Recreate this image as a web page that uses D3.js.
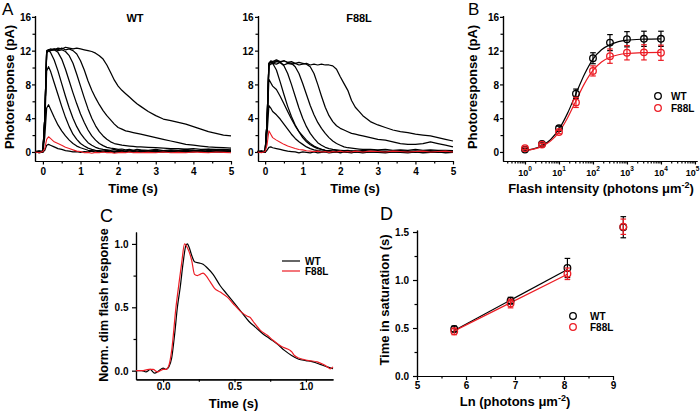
<!DOCTYPE html>
<html><head><meta charset="utf-8">
<script src="https://cdn.jsdelivr.net/npm/d3@7"></script>
<style>
body{margin:0;background:#fff}
svg{display:block;font-family:"Liberation Sans",Arial,Helvetica,sans-serif}
</style></head><body>
<svg id="c" width="700" height="412"></svg>
<script>
// ---------- Panel A: photoresponse traces (time grid in s, values in pA) ----------
const tA = [-0.2,-0.1,0,0.05,0.1,0.15,0.2,0.3,0.4,0.5,0.6,0.7,0.8,0.9,1.0,1.1,1.2,1.3,1.4,1.5,1.6,1.7,1.8,1.9,2.0,2.1,2.2,2.3,2.4,2.5,2.6,2.8,3.0,3.2,3.4,3.6,3.8,4.0,4.2,4.4,4.6,4.8,5.0];

const wtP1 = [0.1,-0.1,0,0.2,0.8,0.9,0.8, 0.6,0.4,0.3,0.15,0.1,0,0.05,-0.05,0.05,0,0.1,-0.05,0.05,0,0.1,0,-0.05,0.05,0,0.1,0,0.05,-0.05,0.1, 0,0.05,0,0.1,-0.05,0.05,0,0.1,0,0.05,-0.05,0.05];
const wtRed = [0,-0.1,0.05,0.4,1.5,1.8,1.6, 1.2,1.0,0.8,0.55,0.4,0.25,0.1,0.05,-0.1,-0.05,-0.15,-0.05,-0.1,0,-0.1,-0.05,-0.15,-0.1,-0.05,-0.1,0,-0.1,-0.05,-0.1, -0.05,-0.1,0,-0.1,-0.05,-0.1,0,-0.05,-0.1,0,-0.05,-0.1];
const wtP3 = [0,0.1,0,1.8,5.2,5.6,5.1, 4.1,3.2,2.5,1.9,1.4,1.0,0.7,0.5,0.35,0.2,0.15,0.1,0.05,0.1,0,0.05,0.1,0,0.05,0,0.1,0,0.05,0, 0.1,0,0.05,0,0.1,0,0.05,0.1,0,0.05,0,0.1];
const wtP4 = [0,0,0.1,3.3,9.6,10.1,9.6, 8.2,6.8,5.4,4.1,3.0,2.1,1.5,1.0,0.7,0.45,0.3,0.2,0.15,0.1,0.2,0.1,0.05,0.15,0.1,0,0.1,0.2,0.1,0, 0.1,0.05,0.15,0,0.1,0.05,0.2,0.1,0,0.15,0.05,0.1];
const wtS1 = [0,0.1,0,4.0,11.7,12.0,11.8, 10.9,9.6,8.1,6.6,5.2,4.0,3.0,2.2,1.6,1.1,0.8,0.55,0.4,0.3,0.25,0.2,0.3,0.15,0.2,0.1,0.25,0.15,0.1,0.2, 0.1,0.2,0.05,0.15,0.1,0.2,0.1,0.05,0.2,0.1,0.15,0.1];
const wtS2 = [0,0,0.1,4.0,11.8,12.1,12.0, 12.1,11.8,11.0,9.8,8.4,7.0,5.7,4.5,3.5,2.6,1.9,1.4,1.0,0.75,0.55,0.45,0.4,0.3,0.35,0.25,0.3,0.2,0.3,0.25, 0.2,0.3,0.15,0.25,0.2,0.3,0.2,0.15,0.3,0.2,0.25,0.2];
const wtS3 = [0.1,0,0,4.0,11.8,12.0,12.1, 12.2,12.0,12.1,11.9,11.4,10.5,9.2,7.8,6.4,5.1,4.0,3.1,2.4,1.9,1.5,1.2,1.0,0.9,0.8,0.75,0.7,0.65,0.6,0.6, 0.55,0.5,0.45,0.4,0.4,0.35,0.4,0.3,0.35,0.3,0.3,0.25];
const wtS4 = [0,0.1,0,4.0,11.9,12.1,12.0, 12.2,12.1,12.3,12.1,12.2,12.0,11.6,10.8,9.7,8.4,7.3,6.4,5.6,4.9,4.3,3.8,3.3,2.9,2.7,2.5,2.4,2.3,2.2,2.1, 1.9,1.7,1.5,1.3,1.1,0.9,0.8,0.7,0.6,0.55,0.5,0.45];
const wtS5 = [0,0,0.1,4.0,12.0,12.1,12.2, 12.1,12.3,12.2,12.4,12.3,12.2,12.3,12.2,12.1,12.0,11.9,11.7,11.4,11.0,10.3,9.4,8.5,7.8,7.3,6.9,6.5,6.1,5.7,5.4, 4.8,4.3,3.9,3.7,3.5,3.3,3.0,2.7,2.4,2.2,2.0,1.9];

const fP1 = [0,0.1,-0.05,0.2,0.55,0.6,0.5, 0.4,0.3,0.2,0.1,0.05,0,-0.1,0,-0.05,-0.1,0,-0.1,-0.05,0,-0.1,-0.05,0,-0.1,0,-0.05,-0.1,0,-0.05,-0.1, 0,-0.05,-0.1,0,-0.05,-0.1,0,-0.1,-0.05,0,-0.1,-0.05];
const fRed = [0,-0.1,0.05,0.8,2.5,2.1,1.7, 1.4,1.15,0.9,0.7,0.55,0.4,0.3,0.25,0.15,0.1,0.05,0.1,0,0.05,-0.05,0.05,0,0.1,0,0.05,0,0.1,0.05,0, 0.1,0.05,0,0.1,0.05,0,0.05,0.1,0,0.05,0.1,0];
const fP3 = [0.1,0,0,2.0,5.5,5.2,4.8, 4.4,3.9,3.3,2.7,2.1,1.6,1.2,0.9,0.6,0.4,0.25,0.15,0.1,0.05,0,0.05,-0.05,0,0.05,-0.05,0,0.05,0,-0.05, 0,0.05,-0.05,0,0.05,0,-0.05,0.05,0,-0.05,0,0.05];
const fP4 = [0,0.05,0,3.0,8.6,8.2,7.8, 7.4,6.6,5.7,4.8,3.9,3.1,2.4,1.9,1.4,1.0,0.7,0.5,0.3,0.2,0.15,0.1,0.05,0.1,0,0.05,0.1,0,0.05,0.1, 0,0.05,0.1,0,0.05,0,0.1,0.05,0,0.1,0.05,0];
const fS1 = [0,0,0.1,3.5,10.5,10.7,10.5, 9.7,8.3,6.8,5.4,4.2,3.2,2.4,1.7,1.2,0.85,0.6,0.4,0.3,0.2,0.15,0.1,0.15,0.05,0.1,0.05,0.1,0,0.1,0.05, 0.1,0,0.05,0.1,0,0.05,0.1,0,0.05,0.1,0,0.05];
const fS2 = [0,0.1,0,3.5,10.4,10.7,10.6, 10.8,10.6,10.2,9.3,8.0,6.6,5.2,4.0,3.0,2.2,1.6,1.1,0.8,0.55,0.4,0.3,0.25,0.2,0.15,0.2,0.1,0.15,0.1,0.2, 0.1,0.15,0.05,0.1,0.15,0.1,0.05,0.1,0.15,0.05,0.1,0.1];
const fS3 = [0,0,0.1,3.5,10.5,10.8,10.7, 10.9,10.7,10.8,10.6,10.5,10.1,9.3,8.1,6.8,5.5,4.4,3.5,2.8,2.2,1.7,1.3,1.0,0.8,0.6,0.5,0.45,0.4,0.35,0.3, 0.3,0.25,0.3,0.2,0.25,0.2,0.3,0.2,0.25,0.2,0.2,0.15];
const fS4 = [0.1,0,0,3.5,10.3,10.6,10.5, 10.7,10.6,10.8,10.6,10.7,10.5,10.6,10.5,10.4,10.1,9.3,8.0,6.6,5.3,4.3,3.6,3.1,2.8,2.6,2.4,2.2,2.1,2.0,1.9, 1.7,1.5,1.4,1.2,1.0,0.9,0.9,1.0,1.2,1.0,0.8,0.6];
const fS5 = [0,0.1,0,3.4,10.2,10.4,10.5, 10.4,10.6,10.3,10.5,10.4,10.5,10.3,10.4,10.5,10.3,10.4,10.3,10.4,10.3,10.3,10.2,9.8,8.9,8.1,7.3,6.1,5.3,4.8,4.3, 3.6,3.2,2.9,2.6,2.4,2.3,2.1,2.0,1.9,1.7,1.5,1.3];

const aYTicks = [0,4,8,12,16];
const aXTicks = [0,1,2,3,4,5];

// ---------- Panel B: intensity-response ----------
const bIntensity = [1,3.16,10,31.6,100,316,1000,3162,10000];
const bWT = [0.28,0.94,2.8,6.9,11.1,12.95,13.35,13.4,13.4];
const bWTerr = [0.15,0.15,0.25,0.55,0.65,0.95,0.9,0.9,0.9];
const bF88 = [0.45,0.87,2.36,5.87,9.6,11.35,11.75,11.8,11.75];
const bF88err = [0.15,0.15,0.2,0.6,0.6,0.85,0.85,0.9,0.9];
const bFitI = [1,1.78,3.16,5.62,10,17.8,31.6,56.2,100,178,316,562,1000,3162,10000];
const bFitWT = [0.18,0.37,0.74,1.45,2.7,4.57,6.9,9.2,11.0,12.1,12.7,13.07,13.24,13.36,13.4];
const bFitF88 = [0.16,0.33,0.66,1.28,2.36,4.02,6.07,8.09,9.65,10.65,11.21,11.51,11.66,11.77,11.8];
const bXExp = [0,1,2,3,4,5];

// ---------- Panel C: normalized dim flash responses ----------
const cWTt = [-0.19,-0.15,-0.12,-0.09,-0.06,-0.03,0,0.02,0.04,0.06,0.08,0.1,0.12,0.14,0.16,0.17,0.18,0.2,0.22,0.25,0.28,0.31,0.35,0.4,0.45,0.5,0.55,0.6,0.65,0.7,0.75,0.8,0.85,0.9,0.95,1.0,1.05,1.1,1.15,1.19];
const cWTv = [0.0,0.0,-0.01,0.01,-0.02,0.0,0.02,0.01,0.03,0.1,0.28,0.5,0.66,0.85,0.99,1.0,0.98,0.91,0.86,0.85,0.84,0.81,0.76,0.67,0.6,0.53,0.46,0.39,0.34,0.29,0.25,0.21,0.16,0.12,0.09,0.08,0.07,0.05,0.03,0.015];
const cF88t = [-0.19,-0.15,-0.1,-0.07,-0.04,-0.02,0,0.02,0.04,0.06,0.09,0.11,0.13,0.15,0.17,0.2,0.22,0.24,0.26,0.28,0.3,0.33,0.36,0.4,0.45,0.49,0.54,0.59,0.61,0.63,0.68,0.73,0.77,0.83,0.89,0.9,0.92,0.95,0.98,1.02,1.08,1.12,1.15,1.17,1.19];
const cF88v = [0.0,0.0,0.01,0.01,-0.01,0.0,0.01,0.01,0.04,0.16,0.5,0.68,0.85,1.0,0.97,0.87,0.76,0.75,0.76,0.77,0.75,0.7,0.65,0.62,0.58,0.53,0.47,0.43,0.42,0.39,0.32,0.28,0.24,0.19,0.16,0.15,0.12,0.1,0.09,0.08,0.07,0.05,0.03,0.015,0.03];
const cXTicks = [0,0.5,1.0];
const cYTicks = [0,0.5,1.0];

// ---------- Panel D: time in saturation ----------
const dLn = [5.76,6.91,8.07,9.21];
const dWT = [0.49,0.785,1.125,1.55];
const dWTerr = [0.03,0.035,0.1,0.11];
const dF88 = [0.465,0.755,1.065,1.555];
const dF88err = [0.035,0.045,0.06,0.08];
const dFitLn = [5.76,8.07];
const dFitWT = [0.475,1.11];
const dFitF88 = [0.47,1.06];
const dXTicks = [5,6,7,8,9];
const dYTicks = [0,0.5,1.0,1.5];

// ================= drawing =================
const RED = "#ec1c24";
const svg = d3.select("#c");

function styleAx(sel, fs){
  sel.attr("font-family", null).attr("font-size", null);
  sel.selectAll("path,line").attr("stroke","#000").attr("stroke-width",1.2);
  sel.selectAll("text").attr("fill","#000").style("font-size", fs+"px").style("font-weight","bold");
}
function xAxis(x, y0, major, minor, fmt, size, pad){
  const a = svg.append("g").attr("transform",`translate(0,${y0})`)
    .call(d3.axisBottom(x).tickValues(minor).tickSize(2.5).tickFormat("").tickSizeOuter(0));
  styleAx(a,10);
  const b = svg.append("g").attr("transform",`translate(0,${y0})`)
    .call(d3.axisBottom(x).tickValues(major).tickSize(size).tickPadding(pad).tickFormat(fmt).tickSizeOuter(0));
  styleAx(b,10);
  return b;
}
function yAxis(y, x0, major, minor, fmt, size, pad){
  const a = svg.append("g").attr("transform",`translate(${x0},0)`)
    .call(d3.axisLeft(y).tickValues(minor).tickSize(2.5).tickFormat("").tickSizeOuter(0));
  styleAx(a,10);
  const b = svg.append("g").attr("transform",`translate(${x0},0)`)
    .call(d3.axisLeft(y).tickValues(major).tickSize(size).tickPadding(pad).tickFormat(fmt).tickSizeOuter(0));
  styleAx(b,10);
  b.selectAll("text").attr("dy","0.36em");
  return b;
}
function txt(x,y,s,fs,weight,anchor){
  return svg.append("text").attr("x",x).attr("y",y).attr("text-anchor",anchor||"start")
    .style("font-size",fs+"px").style("font-weight",weight||"bold").attr("fill","#000").text(s);
}
function vtxt(x,y,s,fs){
  return svg.append("text").attr("transform",`translate(${x},${y}) rotate(-90)`).attr("text-anchor","middle")
    .style("font-size",fs+"px").style("font-weight","bold").attr("fill","#000").text(s);
}
const pairs = (xs, ys) => xs.map((t,i)=>[t, ys[i]]).filter(d=>d[1]!==undefined);

// ----- Panel A -----
const yA = d3.scaleLinear().domain([-1.07,16.15]).range([161,15.6]);
function tracePanel(x, list, red){
  const line = d3.line().x(d=>x(d[0])).y(d=>yA(d[1]));
  const g = svg.append("g");
  list.forEach(arr=>{
    g.append("path").attr("d", line(pairs(tA,arr))).attr("fill","none")
     .attr("stroke","#000").attr("stroke-width",1.25).attr("stroke-linejoin","round");
  });
  g.append("path").attr("d", line(pairs(tA,red))).attr("fill","none")
   .attr("stroke",RED).attr("stroke-width",1.1).attr("stroke-linejoin","round");
}
const xAw = d3.scaleLinear().domain([-0.21,5]).range([35,231]);
const xAf = d3.scaleLinear().domain([-0.19,5]).range([258,453]);
const halfSec = [0.5,1.5,2.5,3.5,4.5];
const aYminor = [2,6,10,14];
xAxis(xAw,161,aXTicks,halfSec,d3.format("d"),3.5,3.5);
yAxis(yA,35,aYTicks,aYminor,d3.format("d"),3,1);
xAxis(xAf,161,aXTicks,halfSec,d3.format("d"),3.5,3.5);
yAxis(yA,258,aYTicks,aYminor,d3.format("d"),3,1.5);
tracePanel(xAw,[wtP1,wtP3,wtP4,wtS1,wtS2,wtS3,wtS4,wtS5],wtRed);
tracePanel(xAf,[fP1,fP3,fP4,fS1,fS2,fS3,fS4,fS5],fRed);
txt(2,15,"A",17,"normal");
txt(135,21.7,"WT",11,"bold","middle");
txt(359,21.7,"F88L",11,"bold","middle");
txt(133,192.5,"Time (s)",13,"bold","middle");
txt(355,192.5,"Time (s)",13,"bold","middle");
vtxt(14,87,"Photoresponse (pA)",13);

// ----- Panel B -----
const xB = d3.scaleLog().domain([Math.pow(10,-0.647),Math.pow(10,5.06)]).range([503,697]);
const bMinor = [];
[0.1,1,10,100,1000,10000].forEach(dec=>{ for(let k=2;k<=9;k++){ const v=dec*k; if(v>=xB.domain()[0] && v<=xB.domain()[1]) bMinor.push(v);} });
const bMajor = bXExp.map(e=>Math.pow(10,e));
xAxis(xB,161,bMajor,bMinor,()=>"",3.5,3);
yAxis(yA,503,aYTicks,aYminor,d3.format("d"),3,1);
bMajor.forEach((v,i)=>{
  const shift = i===bMajor.length-1 ? -2.5 : 0;
  const t = svg.append("text").attr("x",xB(v)+shift).attr("y",175.5).attr("text-anchor","middle")
    .style("font-size","9px").style("font-weight","bold").attr("fill","#000");
  t.append("tspan").text("10");
  t.append("tspan").attr("dy",-4.5).style("font-size","6.5px").text(bXExp[i]);
});
const bLine = d3.line().curve(d3.curveMonotoneX).x(d=>xB(d[0])).y(d=>yA(d[1]));
svg.append("path").attr("d",bLine(pairs(bFitI,bFitWT))).attr("fill","none").attr("stroke","#000").attr("stroke-width",1.2);
svg.append("path").attr("d",bLine(pairs(bFitI,bFitF88))).attr("fill","none").attr("stroke",RED).attr("stroke-width",1.2);
function errPts(x, y, xs, vs, es, color, r){
  const g = svg.append("g");
  xs.forEach((xv,i)=>{
    const cx = x(xv), y1 = y(vs[i]-es[i]), y2 = y(vs[i]+es[i]);
    g.append("line").attr("x1",cx).attr("x2",cx).attr("y1",y1).attr("y2",y2).attr("stroke",color).attr("stroke-width",1.2);
    [y1,y2].forEach(yy=>g.append("line").attr("x1",cx-2.8).attr("x2",cx+2.8).attr("y1",yy).attr("y2",yy).attr("stroke",color).attr("stroke-width",1.2));
    g.append("circle").attr("cx",cx).attr("cy",y(vs[i])).attr("r",r).attr("fill","none").attr("stroke",color).attr("stroke-width",1.3);
  });
}
errPts(xB,yA,bIntensity,bWT,bWTerr,"#000",3.3);
errPts(xB,yA,bIntensity,bF88,bF88err,RED,3.3);
svg.append("circle").attr("cx",658).attr("cy",96).attr("r",3.3).attr("fill","none").attr("stroke","#000").attr("stroke-width",1.3);
svg.append("circle").attr("cx",658).attr("cy",108).attr("r",3.3).attr("fill","none").attr("stroke",RED).attr("stroke-width",1.3);
txt(671,99.6,"WT",10);
txt(671,111.6,"F88L",10);
txt(468,15,"B",17,"normal");
const bl = svg.append("text").attr("x",601).attr("y",192.5).attr("text-anchor","middle")
  .style("font-size","13px").style("font-weight","bold").attr("fill","#000");
bl.append("tspan").text("Flash intensity (photons μm");
bl.append("tspan").attr("dy",-5).style("font-size","9px").text("-2");
bl.append("tspan").attr("dy",5).text(")");
vtxt(477,87,"Photoresponse (pA)",13);

// ----- Panel C -----
const xC = d3.scaleLinear().domain([-0.19,1.19]).range([136,333]);
const yC = d3.scaleLinear().domain([-0.068,1.094]).range([379.3,232]);
xAxis(xC,379.3,cXTicks,[0.25,0.75],d3.format(".1f"),3,0.5);
yAxis(yC,136,cYTicks,[0.25,0.75],d3.format(".1f"),4,3.5);
const cLine = d3.line().curve(d3.curveMonotoneX).x(d=>xC(d[0])).y(d=>yC(d[1]));
svg.append("path").attr("d",cLine(pairs(cWTt,cWTv))).attr("fill","none").attr("stroke","#000").attr("stroke-width",1.2);
svg.append("path").attr("d",cLine(pairs(cF88t,cF88v))).attr("fill","none").attr("stroke",RED).attr("stroke-width",1.2);
svg.append("line").attr("x1",282).attr("x2",300).attr("y1",261).attr("y2",261).attr("stroke","#000").attr("stroke-width",1.2);
svg.append("line").attr("x1",282).attr("x2",300).attr("y1",271).attr("y2",271).attr("stroke",RED).attr("stroke-width",1.2);
txt(305,264.6,"WT",10);
txt(305,274.6,"F88L",10);
txt(100,221.5,"C",18,"normal");
txt(233.5,407.5,"Time (s)",13,"bold","middle");
vtxt(108,305,"Norm. dim flash response",12.5);

// ----- Panel D -----
const xD = d3.scaleLinear().domain([5,9]).range([417,613]);
const yD = d3.scaleLinear().domain([0,1.52]).range([376,230.1]);
xAxis(xD,376,dXTicks,[5.5,6.5,7.5,8.5],d3.format("d"),4,1.5);
yAxis(yD,417,dYTicks,[0.25,0.75,1.25],d3.format(".1f"),4,4);
const dLine = d3.line().x(d=>xD(d[0])).y(d=>yD(d[1]));
svg.append("path").attr("d",dLine(pairs(dFitLn,dFitWT))).attr("fill","none").attr("stroke","#000").attr("stroke-width",1.2);
svg.append("path").attr("d",dLine(pairs(dFitLn,dFitF88))).attr("fill","none").attr("stroke",RED).attr("stroke-width",1.2);
errPts(xD,yD,dLn,dWT,dWTerr,"#000",3.3);
errPts(xD,yD,dLn,dF88,dF88err,RED,3.3);
svg.append("circle").attr("cx",573).attr("cy",316).attr("r",3.3).attr("fill","none").attr("stroke","#000").attr("stroke-width",1.3);
svg.append("circle").attr("cx",573).attr("cy",327).attr("r",3.3).attr("fill","none").attr("stroke",RED).attr("stroke-width",1.3);
txt(590,319.6,"WT",10);
txt(590,330.6,"F88L",10);
txt(380,219.5,"D",18,"normal");
const dl = svg.append("text").attr("x",515).attr("y",406).attr("text-anchor","middle")
  .style("font-size","13px").style("font-weight","bold").attr("fill","#000");
dl.append("tspan").text("Ln (photons μm");
dl.append("tspan").attr("dy",-5).style("font-size","9px").text("-2");
dl.append("tspan").attr("dy",5).text(")");
vtxt(389,300,"Time in saturation (s)",13);
</script>
</body></html>
